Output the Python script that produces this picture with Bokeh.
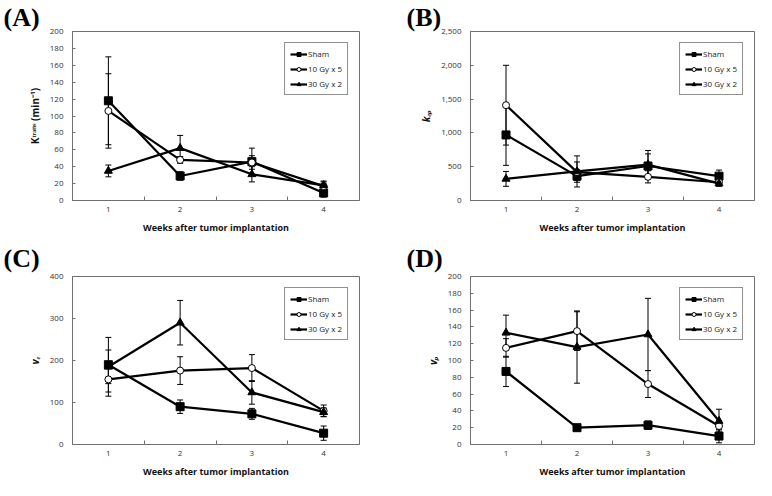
from bokeh.plotting import figure
from bokeh.layouts import column, row
from bokeh.models import (Range1d, FixedTicker, SingleIntervalTicker, NumeralTickFormatter,
                          Whisker, ColumnDataSource, Legend, LegendItem, Title, TeeHead)
from bokeh.embed import file_html
from bokeh.resources import INLINE

weeks = [1, 2, 3, 4]
series_names = ["Sham", "10 Gy x 5", "30 Gy x 2"]

# (A) Ktrans
ktrans_sham = [118, 29, 46, 9]
ktrans_sham_err = [52, 5, 16, 5]
ktrans_10gy = [106, 48, 45, 17]
ktrans_10gy_err = [44, 4, 8, 5]
ktrans_30gy = [35, 62, 31, 18]
ktrans_30gy_err = [7, 15, 9, 5]

# (B) kep
kep_sham = [970, 360, 510, 360]
kep_sham_err = [450, 60, 180, 90]
kep_10gy = [1410, 420, 350, 270]
kep_10gy_err = [590, 150, 90, 40]
kep_30gy = [320, 430, 530, 250]
kep_30gy_err = [110, 230, 210, 40]

# (C) ve
ve_sham = [190, 90, 73, 27]
ve_sham_err = [65, 16, 13, 17]
ve_10gy = [155, 176, 182, 80]
ve_10gy_err = [40, 33, 32, 14]
ve_30gy = [185, 290, 124, 77]
ve_30gy_err = [40, 53, 28, 10]

# (D) vp
vp_sham = [87, 20, 23, 10]
vp_sham_err = [18, 2, 5, 8]
vp_10gy = [115, 135, 72, 22]
vp_10gy_err = [11, 23, 16, 6]
vp_30gy = [133, 116, 131, 28]
vp_30gy_err = [21, 43, 43, 14]

TICK_FONT = "Open Sans"


def panel(tag, ylab, ylab_style, ymax, step, series, width, height, bl, br, bt, bb,
          tag_standoff, tag_x, comma=False):
    p = figure(width=width, height=height, x_range=Range1d(0.5, 4.5), y_range=Range1d(0, ymax),
               output_backend="svg", toolbar_location=None,
               min_border_left=bl, min_border_right=br, min_border_top=bt, min_border_bottom=bb)
    p.title = Title(text=tag, align="left", offset=-(bl - tag_x), standoff=tag_standoff,
                    text_font="Liberation Serif", text_font_style="bold",
                    text_font_size="26px", text_color="black")
    p.grid.visible = False
    p.outline_line_color = "#707070"
    p.outline_line_width = 1
    p.background_fill_color = "white"
    p.border_fill_color = "white"

    xa = p.xaxis[0]
    xa.ticker = FixedTicker(ticks=weeks, minor_ticks=[1.5, 2.5, 3.5])
    xa.major_tick_line_color = None
    xa.major_tick_in = 0
    xa.major_tick_out = 0
    xa.minor_tick_in = 4
    xa.minor_tick_out = 0
    xa.minor_tick_line_color = "#707070"
    xa.axis_line_color = "#707070"
    xa.major_label_text_font = TICK_FONT
    xa.major_label_text_font_size = "8px"
    xa.major_label_text_color = "#333333"
    xa.major_label_standoff = 6
    xa.axis_label = "Weeks after tumor implantation"
    xa.axis_label_text_font = TICK_FONT
    xa.axis_label_text_font_style = "bold"
    xa.axis_label_text_font_size = "9px"
    xa.axis_label_text_color = "#111111"
    xa.axis_label_standoff = 6

    ya = p.yaxis[0]
    ya.ticker = SingleIntervalTicker(interval=step, num_minor_ticks=0)
    ya.major_tick_in = 3
    ya.major_tick_out = 0
    ya.major_tick_line_color = "#707070"
    ya.minor_tick_line_color = None
    ya.axis_line_color = "#707070"
    ya.major_label_text_font = TICK_FONT
    ya.major_label_text_font_size = "8px"
    ya.major_label_text_color = "#333333"
    ya.major_label_standoff = 9
    if comma:
        ya.formatter = NumeralTickFormatter(format="0,0")
    ya.axis_label = ylab
    ya.axis_label_text_font = TICK_FONT
    ya.axis_label_text_font_style = ylab_style
    ya.axis_label_text_font_size = "10px"
    ya.axis_label_text_color = "#111111"
    ya.axis_label_standoff = 5

    styles = [
        dict(marker="square", size=8, fill_color="black", line_color="black"),
        dict(marker="circle", size=7, fill_color="white", line_color="black", line_width=1),
        dict(marker="triangle", size=8, fill_color="black", line_color="black"),
    ]
    items = []
    for (name, vals, errs), st in zip(series, styles):
        src = ColumnDataSource(dict(x=weeks,
                                    upper=[v + e for v, e in zip(vals, errs)],
                                    lower=[v - e for v, e in zip(vals, errs)]))
        w = Whisker(base="x", upper="upper", lower="lower", source=src,
                    line_color="black", line_width=1,
                    upper_head=TeeHead(size=6, line_width=1, line_color="black"),
                    lower_head=TeeHead(size=6, line_width=1, line_color="black"))
        w.level = "underlay"
        p.add_layout(w)
        lr = p.line(weeks, vals, line_color="black", line_width=2.2)
        sr = p.scatter(weeks, vals, **st)
        items.append(LegendItem(label=name, renderers=[lr, sr]))

    leg = Legend(items=items, location="top_right")
    leg.border_line_color = "#222222"
    leg.border_line_width = 1
    leg.background_fill_color = "white"
    leg.label_text_font = TICK_FONT
    leg.label_text_font_size = "8px"
    leg.label_text_color = "#222222"
    leg.glyph_width = 17
    leg.glyph_height = 10
    leg.label_height = 10
    leg.label_standoff = 1
    leg.spacing = 4
    leg.padding = 5
    leg.margin = 11
    p.add_layout(leg)
    return p


pA = panel("(A)", "Kᵗʳᵃⁿˢ (min⁻¹)", "bold", 200, 20,
           [(series_names[0], ktrans_sham, ktrans_sham_err),
            (series_names[1], ktrans_10gy, ktrans_10gy_err),
            (series_names[2], ktrans_30gy, ktrans_30gy_err)],
           378, 236, 72, 19, 30, 31, 0, 3)
pB = panel("(B)", "kₑₚ", "bold italic", 2500, 500,
           [(series_names[0], kep_sham, kep_sham_err),
            (series_names[1], kep_10gy, kep_10gy_err),
            (series_names[2], kep_30gy, kep_30gy_err)],
           378, 236, 92, 2, 30, 31, 0, 28, comma=True)
pC = panel("(C)", "vₑ", "bold italic", 400, 100,
           [(series_names[0], ve_sham, ve_sham_err),
            (series_names[1], ve_10gy, ve_10gy_err),
            (series_names[2], ve_30gy, ve_30gy_err)],
           378, 244, 72, 19, 40, 31, 7, 3)
pD = panel("(D)", "vₚ", "bold italic", 200, 20,
           [(series_names[0], vp_sham, vp_sham_err),
            (series_names[1], vp_10gy, vp_10gy_err),
            (series_names[2], vp_30gy, vp_30gy_err)],
           378, 244, 92, 2, 40, 31, 7, 28)

layout = column(row(pA, pB), row(pC, pD))
open("out.html", "w").write(file_html(layout, INLINE))
